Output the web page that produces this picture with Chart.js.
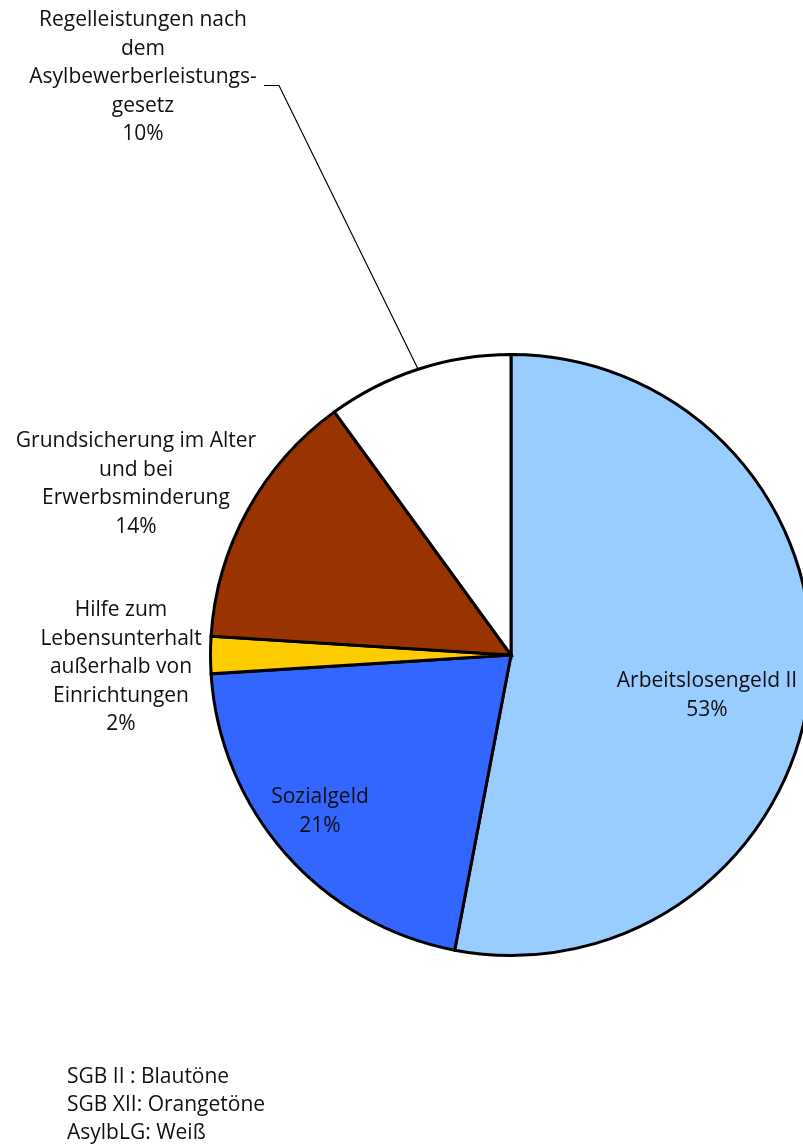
<!DOCTYPE html>
<html>
<head>
<meta charset="utf-8">
<script src="https://cdn.jsdelivr.net/npm/chart.js@4.4.1/dist/chart.umd.min.js"></script>
<style>
  html, body { margin: 0; padding: 0; background: #fff; overflow: hidden; width: 803px; height: 1146px; }
  #wrap { position: relative; width: 803px; height: 1146px; overflow: hidden; }
  canvas { position: absolute; left: 0; top: 0; }
</style>
</head>
<body>
<div id="wrap"><canvas id="c" width="1022" height="1146"></canvas></div>
<script>
// Leistungsarten und Anteile (in %)
const categories = [
  'Arbeitslosengeld II',
  'Sozialgeld',
  'Hilfe zum Lebensunterhalt außerhalb von Einrichtungen',
  'Grundsicherung im Alter und bei Erwerbsminderung',
  'Regelleistungen nach dem Asylbewerberleistungsgesetz'
];
const shares = [53, 21, 2, 14, 10];
const sliceColors = ['#99CCFF', '#3366FF', '#FFCC00', '#993300', '#FFFFFF'];

// Beschriftungszeilen je Segment
const labelLines = [
  ['Arbeitslosengeld II'],
  ['Sozialgeld'],
  ['Hilfe zum', 'Lebensunterhalt', 'außerhalb von', 'Einrichtungen'],
  ['Grundsicherung im Alter', 'und bei', 'Erwerbsminderung'],
  ['Regelleistungen nach', 'dem', 'Asylbewerberleistungs-', 'gesetz']
];
const noteLines = ['SGB II : Blautöne', 'SGB XII: Orangetöne', 'AsylbLG: Weiß'];

const FONT = '21px "Open Sans", "Noto Sans", sans-serif';
const LINE_H = 28.6;
// Mittelpunkt der ersten Zeile je Textblock
const labelAnchors = [
  [707, 681],
  [320, 797],
  [121, 610],
  [136, 441],
  [143, 20]
];

const labelPlugin = {
  id: 'sliceLabels',
  afterDraw(chart) {
    const ctx = chart.ctx;
    const meta = chart.getDatasetMeta(0);
    ctx.save();
    ctx.font = FONT;
    ctx.fillStyle = '#111';
    ctx.textAlign = 'center';
    ctx.textBaseline = 'middle';
    shares.forEach((v, i) => {
      const lines = labelLines[i].concat([v + '%']);
      const [x, y] = labelAnchors[i];
      lines.forEach((t, k) => ctx.fillText(t, x, y + k * LINE_H));
    });

    // Führungslinie zum weißen Segment
    const arc = meta.data[4];
    const mid = (arc.startAngle + arc.endAngle) / 2;
    const ex = arc.x + Math.cos(mid) * arc.outerRadius;
    const ey = arc.y + Math.sin(mid) * arc.outerRadius;
    ctx.strokeStyle = '#000';
    ctx.lineWidth = 1.2;
    ctx.beginPath();
    ctx.moveTo(264, 85.5);
    ctx.lineTo(279, 85.5);
    ctx.lineTo(ex, ey);
    ctx.stroke();

    // Farberläuterung
    ctx.textAlign = 'left';
    noteLines.forEach((t, k) => ctx.fillText(t, 67, 1077 + k * 28));
    ctx.restore();
  }
};

new Chart(document.getElementById('c'), {
  type: 'pie',
  data: {
    labels: categories,
    datasets: [{
      data: shares,
      backgroundColor: sliceColors,
      borderColor: '#000',
      borderWidth: 3,
      borderJoinStyle: 'miter'
    }]
  },
  options: {
    responsive: false,
    animation: false,
    rotation: 0,
    layout: { padding: { left: 209, right: 209, top: 353, bottom: 189 } },
    plugins: {
      legend: { display: false },
      tooltip: { enabled: false }
    }
  },
  plugins: [labelPlugin]
});
</script>
</body>
</html>
